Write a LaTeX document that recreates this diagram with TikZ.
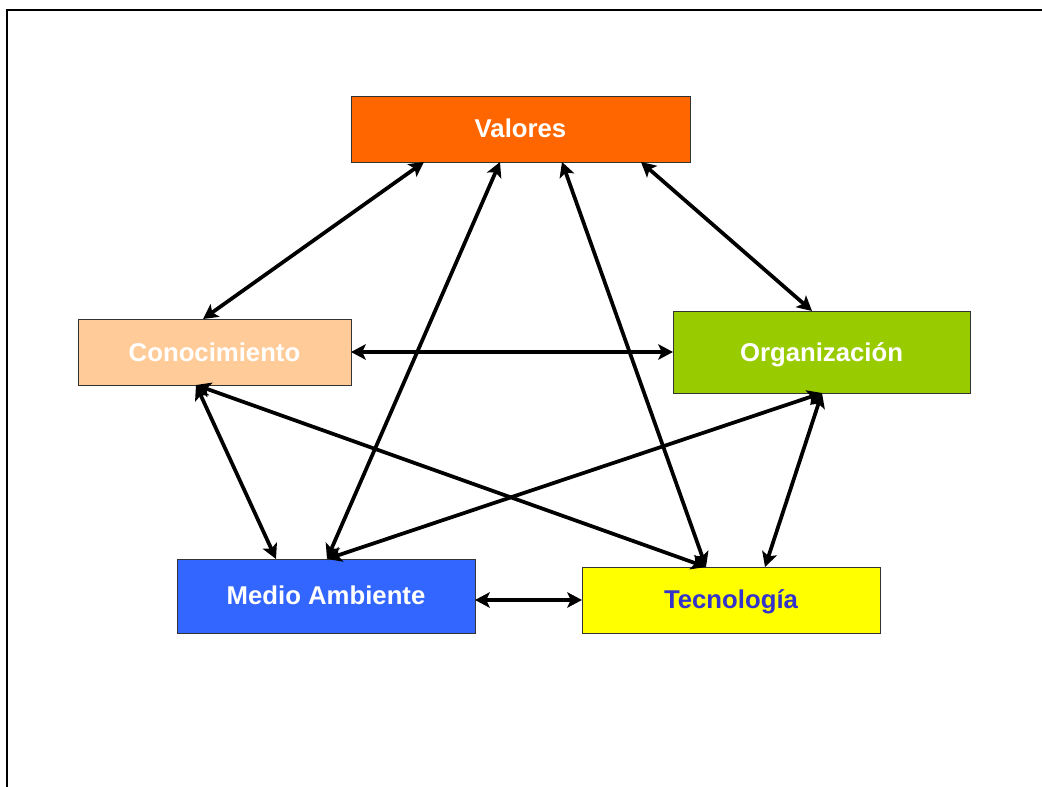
\documentclass[tikz,border=0pt]{standalone}
\usepackage{fontspec}
\setmainfont{Liberation Sans}
\usetikzlibrary{arrows.meta,calc}
\definecolor{cval}{HTML}{FF6600}
\definecolor{ccon}{HTML}{FFCC99}
\definecolor{corg}{HTML}{99CC00}
\definecolor{cmed}{HTML}{3366FF}
\definecolor{ctec}{HTML}{FFFF00}
\definecolor{ctectext}{HTML}{3333CC}
\begin{document}
\begin{tikzpicture}[x=0.75pt,y=-0.75pt,
  box/.style={draw=black!80,line width=0.6pt,inner sep=0pt,outer sep=0pt},
  lbl/.style={anchor=base,inner sep=0pt,font=\fontsize{19.3pt}{22pt}\selectfont\bfseries,text=white},
  link/.style={line width=2.8pt,{Stealth[length=11pt,width=11.5pt,inset=2.5pt]}-{Stealth[length=11pt,width=11.5pt,inset=2.5pt]}}]
\useasboundingbox (0,0) rectangle (1042,787);
\fill[white] (0,0) rectangle (1042,787);
\draw[line width=1.6pt] (7,787) -- (7,10) -- (1042,10);
% boxes (sizes in px: 1px = 0.75pt)
\node[box,fill=cval,minimum width=254.25pt,minimum height=49.5pt] (valbox) at (520.5,129) {};
\node[lbl] (val) at (520.5,138) {Valores};
\node[box,fill=ccon,minimum width=204.75pt,minimum height=49.5pt] (conbox) at (214.5,352) {};
\node[lbl] (con) at (214.5,361.5) {Conocimiento};
\node[box,fill=corg,minimum width=222.75pt,minimum height=61.5pt] (orgbox) at (821.5,352) {};
\node[lbl] (org) at (821.5,361.5) {Organización};
\node[box,fill=cmed,minimum width=223.5pt,minimum height=55.5pt] (medbox) at (326,596) {};
\node[lbl] (med) at (326,604) {Medio Ambiente};
\node[box,fill=ctec,minimum width=223.5pt,minimum height=49.5pt] (tecbox) at (731,600) {};
\node[lbl,text=ctectext] (tec) at (731,608) {Tecnología};
% attachment points on the box edges
\coordinate (v1) at ($(valbox.south west)+(73,0)$);
\coordinate (v2) at ($(valbox.south west)+(149,0)$);
\coordinate (v3) at ($(valbox.south west)+(211,0)$);
\coordinate (v4) at ($(valbox.south west)+(290,0)$);
\coordinate (c1) at ($(conbox.north west)+(125,0)$);
\coordinate (c2) at (conbox.east);
\coordinate (c3) at ($(conbox.south west)+(118,0)$);
\coordinate (o1) at ($(orgbox.north west)+(139,0)$);
\coordinate (o2) at (orgbox.west);
\coordinate (o3) at ($(orgbox.south west)+(149,0)$);
\coordinate (m1) at ($(medbox.north west)+(99,0)$);
\coordinate (m2) at ($(medbox.north west)+(150,0)$);
\coordinate (m3) at ($(medbox.east)+(0,4)$);
\coordinate (t1) at ($(tecbox.north west)+(124,0)$);
\coordinate (t2) at ($(tecbox.north west)+(183,0)$);
\coordinate (t3) at (tecbox.west);
% connectors
\draw[link] (v1) -- (c1);
\draw[link] (v2) -- (m2);
\draw[link] (v3) -- (t1);
\draw[link] (v4) -- (o1);
\draw[link] (c2) -- (o2);
\draw[link] (c3) -- (m1);
\draw[link] (c3) -- (t1);
\draw[link] (o3) -- (m2);
\draw[link] (o3) -- (t2);
\draw[link] (m3) -- (t3);
\end{tikzpicture}
\end{document}
